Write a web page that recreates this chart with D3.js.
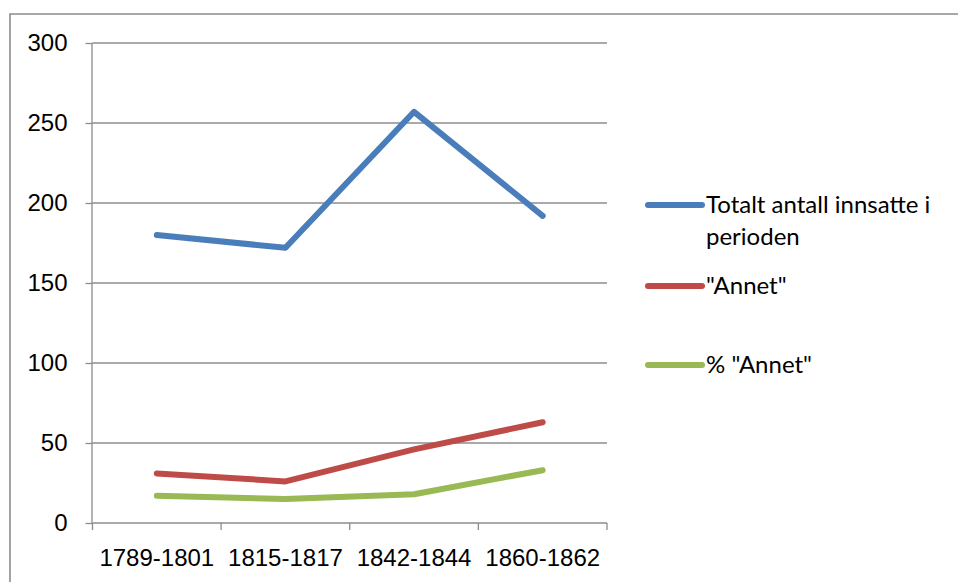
<!DOCTYPE html>
<html lang="no">
<head>
  <meta charset="UTF-8">
  <title>Innsatte per periode</title>
  <script src="https://d3js.org/d3.v7.min.js"></script>
  <style>
    body { margin: 0; background: #fff; }
    svg { display: block; font-family: Lato, "Open Sans", sans-serif; }
    .grid line { stroke: #8c8c8c; stroke-width: 1.3px; }
    .axis path, .axis line { stroke: #8c8c8c; stroke-width: 1.3px; }
    .axis text { font-size: 24px; fill: #000; }
    .series { fill: none; stroke-width: 6px; stroke-linecap: round; stroke-linejoin: round; }
  </style>
</head>
<body>
  <svg id="chart" width="958" height="582"></svg>
  <script>
    // Data
    const periods = ["1789-1801", "1815-1817", "1842-1844", "1860-1862"];
    const totalt = [180, 172, 257, 192];
    const annet = [31, 26, 46, 63];
    const prosentAnnet = [17, 15, 18, 33];
    const yTicks = [0, 50, 100, 150, 200, 250, 300];

    const seriesNames = [["Totalt antall innsatte i", "perioden"], ["\"Annet\""], ["% \"Annet\""]];
    const seriesValues = [totalt, annet, prosentAnnet];
    const colors = ["#4a7ebb", "#be4b48", "#98b954"];

    const width = 958, height = 582;
    const margin = { top: 43, right: 351, bottom: 58, left: 92.5 };

    const svg = d3.select("#chart");

    // outer frame (only top and left edges are visible)
    svg.append("path")
      .attr("d", `M10,${height} V14 H${width}`)
      .attr("fill", "none")
      .attr("stroke", "#8c8c8c")
      .attr("stroke-width", 1.6);

    const x = d3.scaleBand()
      .domain(periods)
      .range([margin.left, width - margin.right]);

    const y = d3.scaleLinear()
      .domain([0, 300])
      .range([height - margin.bottom - 1, margin.top]);

    // horizontal gridlines
    svg.append("g")
      .attr("class", "grid")
      .selectAll("line")
      .data(yTicks.filter(d => d > 0))
      .join("line")
      .attr("x1", margin.left)
      .attr("x2", width - margin.right)
      .attr("y1", d => y(d))
      .attr("y2", d => y(d));

    // y axis
    const yAxis = svg.append("g")
      .attr("class", "axis")
      .attr("transform", `translate(${margin.left},0)`)
      .call(d3.axisLeft(y).tickValues(yTicks).tickSize(7).tickPadding(18));
    yAxis.select(".domain").attr("d", `M-0.5,${y(300)}V${y(0)}`);

    // x axis with ticks at category boundaries
    const xAxis = svg.append("g")
      .attr("class", "axis")
      .attr("transform", `translate(0,${y(0)})`)
      .call(d3.axisBottom(x).tickSize(0).tickPadding(26));
    xAxis.select(".domain").attr("d", `M${margin.left},0H${width - margin.right}`);
    xAxis.selectAll(".bound")
      .data(periods.map(p => x(p)).concat([x.range()[1]]))
      .join("line")
      .attr("class", "bound")
      .attr("x1", d => d).attr("x2", d => d)
      .attr("y1", 0).attr("y2", 7);

    // series lines
    const line = d3.line()
      .x((d, i) => x(periods[i]) + x.bandwidth() / 2)
      .y(d => y(d));

    seriesValues.forEach((vals, i) => {
      svg.append("path")
        .datum(vals)
        .attr("class", "series")
        .attr("stroke", colors[i])
        .attr("d", line);
    });

    // legend
    const legendY = [205, 286, 365];
    const legend = svg.append("g");
    seriesNames.forEach((lines, i) => {
      const g = legend.append("g").attr("transform", `translate(648,${legendY[i]})`);
      g.append("line")
        .attr("x1", 0).attr("x2", 54)
        .attr("stroke", colors[i])
        .attr("stroke-width", 6)
        .attr("stroke-linecap", "round");
      const t = g.append("text")
        .attr("x", 58)
        .attr("y", 8)
        .attr("font-size", 24)
        .attr("fill", "#000");
      lines.forEach((s, j) => {
        t.append("tspan").attr("x", 58).attr("dy", j === 0 ? 0 : 32).text(s);
      });
    });
  </script>
</body>
</html>
